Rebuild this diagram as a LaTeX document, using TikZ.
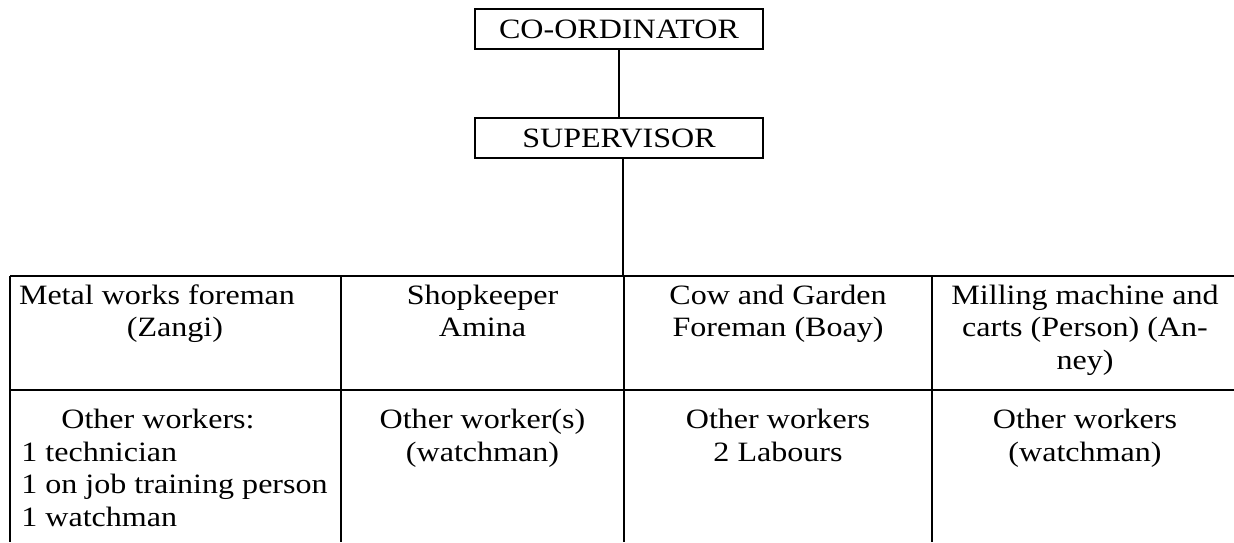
\documentclass[tikz,border=0pt]{standalone}
\usepackage{fontspec}
\setmainfont[FakeStretch=1.145]{Liberation Serif}
\begin{document}
\begin{tikzpicture}[x=0.5pt,y=-0.5pt,
  txt/.style={inner sep=0pt, anchor=base, align=center, font=\fontsize{14pt}{16.25pt}\selectfont},
  box/.style={draw, line width=1pt, inner sep=0pt, minimum width=144pt, minimum height=20pt, font=\fontsize{14pt}{16.25pt}\selectfont},
  rule/.style={line width=1pt}]
\useasboundingbox (0,0) rectangle (1234,542);
% boxes
\node[box] (coord) at (619,29) {CO-ORDINATOR};
\node[box] (sup) at (619,138) {SUPERVISOR};
\coordinate (t) at (623,276);
\draw[rule] (coord.south) -- (sup.north);
\draw[rule] (sup.south -| t) -- (t);
% table
\coordinate (tl) at (10,276);
\coordinate (tr) at (1234,276);
\coordinate (ml) at (10,390);
\coordinate (mr) at (1234,390);
\coordinate (c1) at (341,276);
\coordinate (c2) at (623.5,276);
\coordinate (c3) at (932,276);
\coordinate (b0) at (10,542);
\coordinate (b1) at (341,542);
\coordinate (b2) at (623.5,542);
\coordinate (b3) at (932,542);
\draw[rule] (tl) -- (tr);
\draw[rule] (ml) -- (mr);
\draw[rule] (tl) -- (b0);
\draw[rule] (c1) -- (b1);
\draw[rule] (c2) -- (b2);
\draw[rule] (c3) -- (b3);
% row 1 (base anchor = last line)
\node[txt] (r1c1) at (175,336.5) {Metal works foreman\hspace*{18pt}\\(Zangi)};
\node[txt] (r1c2) at (482.5,336.5) {Shopkeeper\\Amina};
\node[txt] (r1c3) at (778,336.5) {Cow and Garden\\Foreman (Boay)};
\node[txt] (r1c4) at (1085,369) {Milling machine and\\carts (Person) (An-\\ney)};
% row 2
\node[txt] (r2c1a) at (158,428.5) {Other workers:};
\node[txt, anchor=base west, align=left] (r2c1b) at (21,526) {1 technician\\1 on job training person\\1 watchman};
\node[txt] (r2c2) at (482.5,461) {Other worker(s)\\(watchman)};
\node[txt] (r2c3) at (778,461) {Other workers\\2 Labours};
\node[txt] (r2c4) at (1085,461) {Other workers\\(watchman)};
\end{tikzpicture}
\end{document}
